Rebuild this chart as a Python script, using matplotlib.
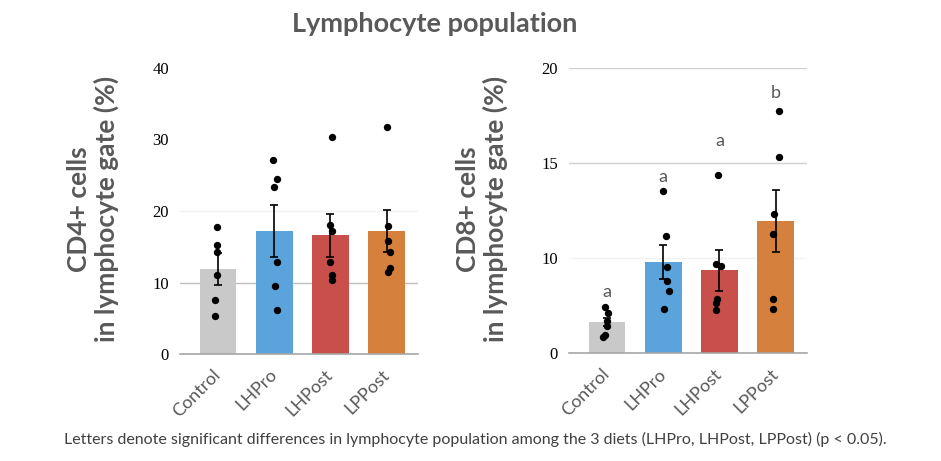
import numpy as np
import matplotlib.pyplot as plt
from matplotlib.transforms import ScaledTranslation

plt.rcParams['font.family'] = ['Lato', 'DejaVu Sans']

diets = ['Control', 'LHPro', 'LHPost', 'LPPost']
colors = ['#c9c9c9', '#5ba3db', '#c9504a', '#d6803d']

# CD4+ panel
cd4_mean = [11.9, 17.2, 16.6, 17.2]
cd4_sem = [2.2, 3.6, 3.0, 3.0]
cd4_points = [
    [17.8, 15.2, 14.3, 11.1, 7.5, 5.3],
    [27.1, 24.5, 23.3, 12.9, 9.5, 6.1],
    [30.3, 18.0, 17.2, 12.9, 11.1, 10.3],
    [31.8, 17.9, 15.8, 14.3, 12.0, 11.5],
]
cd4_jitter = [
    [-0.02, -0.02, -0.02, -0.02, -0.06, -0.06],
    [-0.02, 0.05, 0.0, 0.05, 0.02, 0.05],
    [0.03, 0.0, 0.03, 0.0, 0.03, 0.03],
    [0.0, 0.03, 0.03, 0.06, 0.06, 0.03],
]
cd4_ticks = [0, 10, 20, 30, 40]
cd4_ticklabels = ['0', '10', '20', '30', '40']

# CD8+ panel (axis as drawn in the source: bottom tick labelled "0")
cd8_mean = [6.65, 9.82, 9.36, 11.96]
cd8_sem = [0.2, 0.9, 1.06, 1.64]
cd8_points = [
    [7.44, 7.14, 6.69, 6.46, 5.98, 5.85],
    [13.52, 11.19, 9.52, 8.83, 8.26, 7.33],
    [14.38, 9.68, 9.59, 7.88, 7.67, 7.26],
    [17.74, 15.32, 12.35, 11.30, 7.85, 7.33],
]
cd8_jitter = [
    [-0.04, 0.02, 0.0, -0.01, -0.04, -0.07],
    [-0.01, 0.05, 0.07, 0.07, 0.1, 0.02],
    [-0.02, -0.06, 0.02, -0.05, -0.06, -0.07],
    [0.06, 0.06, -0.03, -0.04, -0.05, -0.05],
]
cd8_ticks = [5, 10, 15, 20]
cd8_ticklabels = ['0', '10', '15', '20']
cd8_letters = ['a', 'a', 'a', 'b']
cd8_letter_y = [8.24, 14.3, 16.2, 18.7]

fig = plt.figure(figsize=(9.41, 4.61), dpi=100)
ax1 = fig.add_axes([0.1913, 0.2321, 0.2529, 0.6204])
ax2 = fig.add_axes([0.6047, 0.2336, 0.2529, 0.6182])


def draw_panel(ax, means, sems, points, jitter, ticks, ticklabels, ylim, grid):
    x = np.arange(len(diets))
    for g, c in grid:
        ax.axhline(g, color=c, lw=1, zorder=0)
    ax.bar(x, means, width=0.65, color=colors, zorder=1)
    ax.errorbar(x, means, yerr=sems, fmt='none', ecolor='black',
                elinewidth=1.2, capsize=3, capthick=1.2, zorder=2)
    for i in range(len(diets)):
        ax.scatter(x[i] + np.array(jitter[i]), points[i], s=28, color='black',
                   zorder=3, linewidths=0)
    ax.set_xlim(-0.68, 3.56)
    ax.set_ylim(ylim)
    ax.set_yticks(ticks)
    ax.set_yticklabels(ticklabels, family='Liberation Serif', fontsize=12)
    ax.set_xticks(x)
    ax.set_xticklabels(diets, rotation=45, ha='right', va='center',
                       rotation_mode='anchor', fontsize=13, color='#595959')
    # nudge the slanted labels a little to the right, like the source
    shift = ScaledTranslation(0.07, 0, fig.dpi_scale_trans)
    for lab in ax.get_xticklabels():
        lab.set_transform(lab.get_transform() + shift)
    ax.tick_params(axis='both', length=0)
    ax.tick_params(axis='x', pad=13)
    ax.tick_params(axis='y', pad=8)
    for s in ['top', 'right', 'left']:
        ax.spines[s].set_visible(False)
    ax.spines['bottom'].set_color('#a6a6a6')
    ax.spines['bottom'].set_linewidth(1.2)


draw_panel(ax1, cd4_mean, cd4_sem, cd4_points, cd4_jitter, cd4_ticks,
           cd4_ticklabels, (0, 40), [(10, '#bfbfbf'), (20, '#f2f2f2')])
draw_panel(ax2, cd8_mean, cd8_sem, cd8_points, cd8_jitter, cd8_ticks,
           cd8_ticklabels, (5, 20), [(10, '#f2f2f2'), (15, '#d0d0d0'), (20, '#d0d0d0')])

for i, (t, y) in enumerate(zip(cd8_letters, cd8_letter_y)):
    ax2.text(i, y, t, ha='center', va='center', fontsize=13, color='#595959')

fig.text(0.0988, 0.547, 'CD4+ cells\nin lymphocyte gate (%)', rotation=90,
         ha='center', va='center', fontsize=19, fontweight='bold',
         color='#595959', linespacing=1.1)
fig.text(0.5122, 0.547, 'CD8+ cells\nin lymphocyte gate (%)', rotation=90,
         ha='center', va='center', fontsize=19, fontweight='bold',
         color='#595959', linespacing=1.1)

fig.text(0.462, 0.948, 'Lymphocyte population', ha='center', va='center',
         fontsize=19.5, fontweight='bold', color='#595959')
fig.text(0.505, 0.046,
         'Letters denote significant differences in lymphocyte population among '
         'the 3 diets (LHPro, LHPost, LPPost) (p < 0.05).',
         ha='center', va='center', fontsize=11.5, color='#404040')

fig.savefig('out.png', dpi=100)
